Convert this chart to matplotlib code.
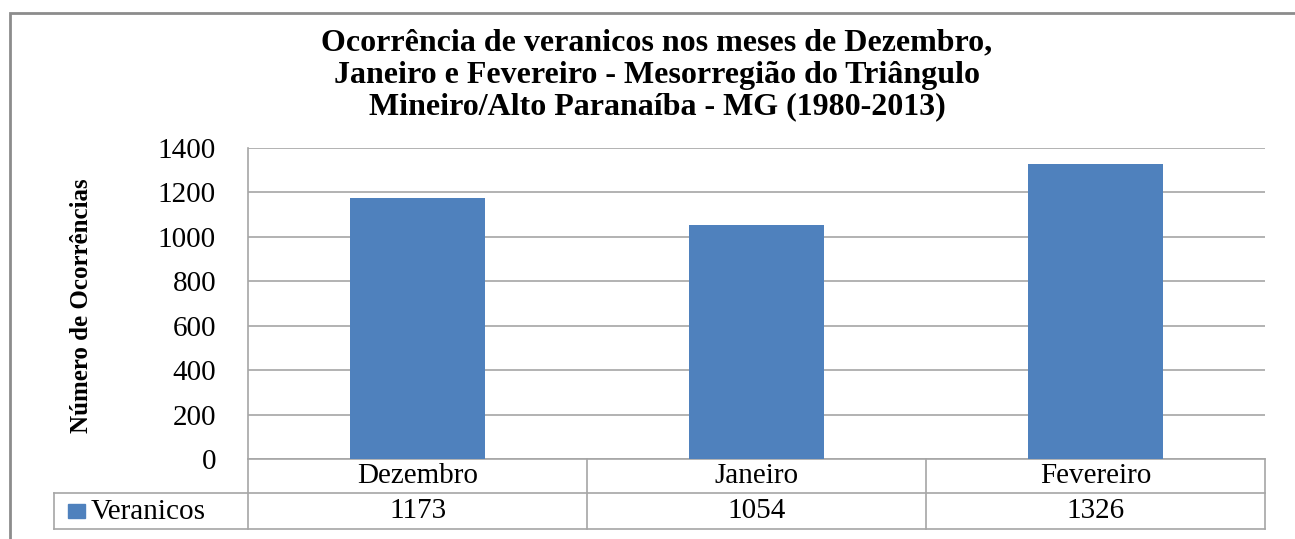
import numpy as np
import matplotlib
matplotlib.use("Agg")
import matplotlib.pyplot as plt
from matplotlib.patches import Rectangle
from matplotlib.transforms import blended_transform_factory

# data
meses = ["Dezembro", "Janeiro", "Fevereiro"]
veranicos = [1173, 1054, 1326]
serie = "Veranicos"
titulo = ("Ocorrência de veranicos nos meses de Dezembro,\n"
          "Janeiro e Fevereiro - Mesorregião do Triângulo\n"
          "Mineiro/Alto Paranaíba - MG (1980-2013)")
yticks = [0, 200, 400, 600, 800, 1000, 1200, 1400]

plt.rcParams["font.family"] = ["Liberation Serif", "DejaVu Serif"]
cor_barra = "#4f81bd"
cor_linha = "#a6a6a6"

W, H = 1295, 539
fig = plt.figure(figsize=(W / 100, H / 100), dpi=100)

# outer chart frame (partly cut off at right/bottom)
fig.patches.append(Rectangle((10 / W, -0.1), 1.2, 1 - 13 / H + 0.1,
                             transform=fig.transFigure, fill=False,
                             edgecolor="#8c8c8c", linewidth=2))

ax = fig.add_axes([248 / W, 1 - 459 / H, (1265 - 248) / W, (459 - 148) / H])
x = np.arange(len(meses))
ax.bar(x, veranicos, width=0.4, color=cor_barra, zorder=3)
ax.set_xlim(-0.5, len(meses) - 0.5)
ax.set_ylim(0, 1400)
ax.set_yticks(yticks)
ax.set_yticklabels([str(v) for v in yticks], fontsize=21)
ax.tick_params(axis="y", length=0, pad=23)
ax.set_xticks([])
ax.grid(axis="y", color=cor_linha, linewidth=1.2, zorder=0)
for s in ["top", "right", "bottom"]:
    ax.spines[s].set_visible(False)
ax.spines["left"].set_color(cor_linha)
ax.spines["left"].set_linewidth(1.2)

fig.text(657 / W, 1 - 75 / H, titulo, ha="center", va="center",
         fontsize=23, fontweight="bold", linespacing=1.12)

fig.text(82 / W, 1 - 306 / H, "Número de Ocorrências", rotation=90,
         ha="center", va="center", fontsize=18, fontweight="bold")

# data table below the axis
tr = blended_transform_factory(ax.transData, ax.transAxes)
h1 = 34 / 311
h2 = 70 / 311
x_left_tab = -0.5 - 194 / 339
kw = dict(transform=tr, color=cor_linha, linewidth=1.2, clip_on=False)
ax.plot([-0.5, len(meses) - 0.5], [0, 0], **kw)
ax.plot([x_left_tab, len(meses) - 0.5], [-h1, -h1], **kw)
ax.plot([x_left_tab, len(meses) - 0.5], [-h2, -h2], **kw)
ax.plot([x_left_tab, x_left_tab], [-h1, -h2], **kw)
for b in np.arange(len(meses) + 1) - 0.5:
    ax.plot([b, b], [0, -h2], **kw)

for i, (m, v) in enumerate(zip(meses, veranicos)):
    ax.text(i, -h1 / 2, m, transform=tr, ha="center", va="center", fontsize=21)
    ax.text(i, -(h1 + h2) / 2, str(v), transform=tr, ha="center", va="center",
            fontsize=21)

fig.patches.append(Rectangle((68 / W, 1 - 518 / H), 17 / W, 14 / H,
                             transform=fig.transFigure, color=cor_barra))
fig.text(91 / W, 1 - 512 / H, serie, ha="left", va="center", fontsize=21)

fig.savefig("out.png", dpi=100)
